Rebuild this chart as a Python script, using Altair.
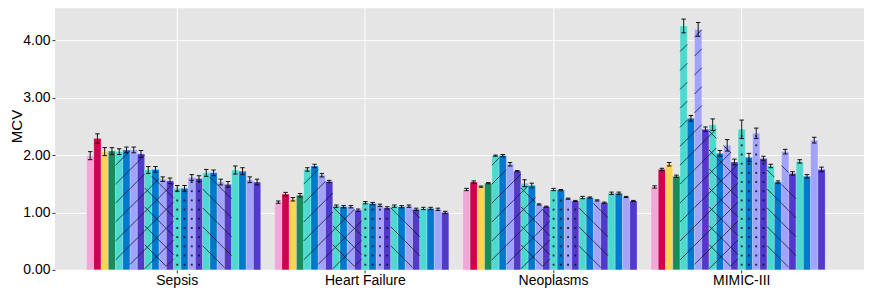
import altair as alt
import pandas as pd

groups = ["Sepsis", "Heart Failure", "Neoplasms", "MIMIC-III"]

sepsis = [1.99, 2.29, 2.06, 2.07, 2.06, 2.09, 2.09, 2.02, 1.74, 1.75, 1.58, 1.55,
          1.42, 1.42, 1.61, 1.59, 1.69, 1.69, 1.53, 1.49, 1.74, 1.72, 1.57, 1.53]
heart_failure = [1.18, 1.32, 1.23, 1.30, 1.75, 1.81, 1.65, 1.54, 1.11, 1.10, 1.10, 1.04,
                 1.17, 1.155, 1.125, 1.08, 1.11, 1.10, 1.11, 1.055, 1.07, 1.07, 1.055, 1.00]
neoplasms = [1.40, 1.53, 1.45, 1.51, 1.99, 1.99, 1.84, 1.72, 1.51, 1.47, 1.14, 1.10,
             1.40, 1.39, 1.24, 1.20, 1.26, 1.26, 1.21, 1.17, 1.335, 1.335, 1.27, 1.20]
mimic = [1.445, 1.75, 1.84, 1.63, 4.25, 2.64, 4.19, 2.45, 2.53, 2.03, 2.17, 1.88,
         2.45, 1.96, 2.38, 1.94, 1.81, 1.53, 2.06, 1.68, 1.89, 1.63, 2.26, 1.75]

sepsis_err = [0.07, 0.08, 0.07, 0.06, 0.05, 0.05, 0.05, 0.06, 0.06, 0.05, 0.04, 0.05,
              0.05, 0.05, 0.05, 0.05, 0.06, 0.05, 0.05, 0.05, 0.07, 0.06, 0.05, 0.05]
heart_failure_err = [0.02, 0.03, 0.03, 0.03, 0.03, 0.03, 0.03, 0.02, 0.02, 0.02, 0.02, 0.02,
                     0.02, 0.02, 0.02, 0.02, 0.02, 0.02, 0.02, 0.02, 0.02, 0.02, 0.02, 0.02]
neoplasms_err = [0.02, 0.02, 0.01, 0.01, 0.01, 0.02, 0.03, 0.01, 0.06, 0.04, 0.01, 0.01,
                 0.02, 0.01, 0.01, 0.01, 0.02, 0.01, 0.01, 0.01, 0.02, 0.02, 0.01, 0.01]
mimic_err = [0.02, 0.02, 0.03, 0.02, 0.12, 0.05, 0.12, 0.04, 0.10, 0.05, 0.10, 0.05,
             0.16, 0.07, 0.09, 0.04, 0.03, 0.02, 0.04, 0.03, 0.03, 0.03, 0.05, 0.04]

palette = ["#F3A6D8", "#D0004F", "#FFD454", "#1B8A5C",
           "#4ED9CF", "#0078CE", "#A2A2FF", "#5139C9"]
color_idx = [0, 1, 2, 3] + [4, 5, 6, 7] * 5
patterns = ["none"] * 4 + ["/"] * 4 + ["x"] * 4 + ["."] * 4 + ["\\"] * 4 + ["none"] * 4

slots = [f"b{i:02d}" for i in range(25)]  # 25th slot stays empty

values = [sepsis, heart_failure, neoplasms, mimic]
errors = [sepsis_err, heart_failure_err, neoplasms_err, mimic_err]

rows = []
for g, vals, errs in zip(groups, values, errors):
    for i, (v, e) in enumerate(zip(vals, errs)):
        rows.append({"group": g, "slot": slots[i], "idx": i, "value": v,
                     "lo": v - e, "hi": v + e, "col": slots[i],
                     "pattern": patterns[i]})
df = pd.DataFrame(rows)

W_UNITS = 0.126   # bar width in data units (for hatch continuity)
STEP = 0.33       # hatch spacing in data units

x_enc = alt.X("group:N", sort=groups,
              scale=alt.Scale(paddingInner=0.036, paddingOuter=0.168),
              axis=alt.Axis(title=None, labelAngle=0, labelFontSize=14,
                            labelColor="black", labelFont="Liberation Sans",
                            domain=False, tickColor="#333333", tickSize=3,
                            labelPadding=1, grid=True, gridColor="white",
                            gridWidth=1, bandPosition=0.5))
xo_enc = alt.XOffset("slot:N", scale=alt.Scale(domain=slots, paddingInner=0, paddingOuter=0))
y_scale = alt.Scale(domain=[0, 4.56], nice=False, zero=True)

base = alt.Chart(df)

bars = base.mark_bar(stroke="white", strokeWidth=0.5, strokeOpacity=0.45).encode(
    x=x_enc,
    xOffset=xo_enc,
    y=alt.Y("value:Q", scale=y_scale,
            axis=alt.Axis(title="MCV", values=[0, 1, 2, 3, 4], format=".2f",
                          labelFontSize=14, labelColor="black", labelFont="Liberation Sans",
                          titleFont="Liberation Sans", titleFontSize=15,
                          titleFontWeight="normal", titleColor="black",
                          titleX=-33, titleY=118, titleBaseline="alphabetic",
                          titleAngle=270, titleAlign="center",
                          domain=False, tickColor="#333333",
                          tickSize=3, labelPadding=2, gridColor="white", gridWidth=1)),
    color=alt.Color("col:N", scale=alt.Scale(domain=slots[:24],
                    range=[palette[c] for c in color_idx]), legend=None),
)

slash = base.transform_filter(
    "datum.pattern == '/' || datum.pattern == 'x'"
).transform_calculate(
    ph=f"(datum.idx * {W_UNITS}) % {STEP}"
).transform_calculate(
    hy=f"sequence(datum.ph + {W_UNITS/2}, datum.value - {W_UNITS/2}, {STEP})"
).transform_flatten(["hy"]).mark_point(
    shape="M-1,1L1,-1", filled=False, stroke="#141428", strokeWidth=0.9,
    opacity=0.85, size=52.7
).encode(x=alt.X("group:N", sort=groups), xOffset=xo_enc,
         y=alt.Y("hy:Q", scale=y_scale))

backslash = base.transform_filter(
    "datum.pattern == '\\\\' || datum.pattern == 'x'"
).transform_calculate(
    ph=f"(({STEP} - (datum.idx * {W_UNITS}) % {STEP}) % {STEP})"
).transform_calculate(
    hy=f"sequence(datum.ph + {W_UNITS/2}, datum.value - {W_UNITS/2}, {STEP})"
).transform_flatten(["hy"]).mark_point(
    shape="M-1,-1L1,1", filled=False, stroke="#141428", strokeWidth=0.9,
    opacity=0.85, size=52.7
).encode(x=alt.X("group:N", sort=groups), xOffset=xo_enc,
         y=alt.Y("hy:Q", scale=y_scale))

dots = base.transform_filter(
    "datum.pattern == '.'"
).transform_calculate(
    hy="sequence(0.09, datum.value - 0.04, 0.16)"
).transform_flatten(["hy"]).mark_square(
    size=3.5, color="#141428", opacity=0.9
).encode(x=alt.X("group:N", sort=groups), xOffset=xo_enc,
         y=alt.Y("hy:Q", scale=y_scale))

err_rule = base.mark_rule(color="#111111", strokeWidth=1).encode(
    x=alt.X("group:N", sort=groups), xOffset=xo_enc,
    y=alt.Y("lo:Q", scale=y_scale), y2="hi:Q")

cap_lo = base.mark_point(shape="M-1,0L1,0", filled=False, stroke="#111111",
                         strokeWidth=1, size=20, opacity=1).encode(
    x=alt.X("group:N", sort=groups), xOffset=xo_enc, y=alt.Y("lo:Q", scale=y_scale))
cap_hi = base.mark_point(shape="M-1,0L1,0", filled=False, stroke="#111111",
                         strokeWidth=1, size=20, opacity=1).encode(
    x=alt.X("group:N", sort=groups), xOffset=xo_enc, y=alt.Y("hi:Q", scale=y_scale))

chart = alt.layer(bars, slash, backslash, dots, err_rule, cap_lo, cap_hi).properties(
    width=810, height=262,
    autosize=alt.AutoSizeParams(type="none"),
    padding={"left": 47, "top": 0, "right": 0, "bottom": 22},
).configure_view(fill="#E5E5E5", stroke=None).configure_axis(
    labelFont="Liberation Sans", titleFont="Liberation Sans"
)

chart.save("out.html", embed_options={"renderer": "svg", "actions": False})
